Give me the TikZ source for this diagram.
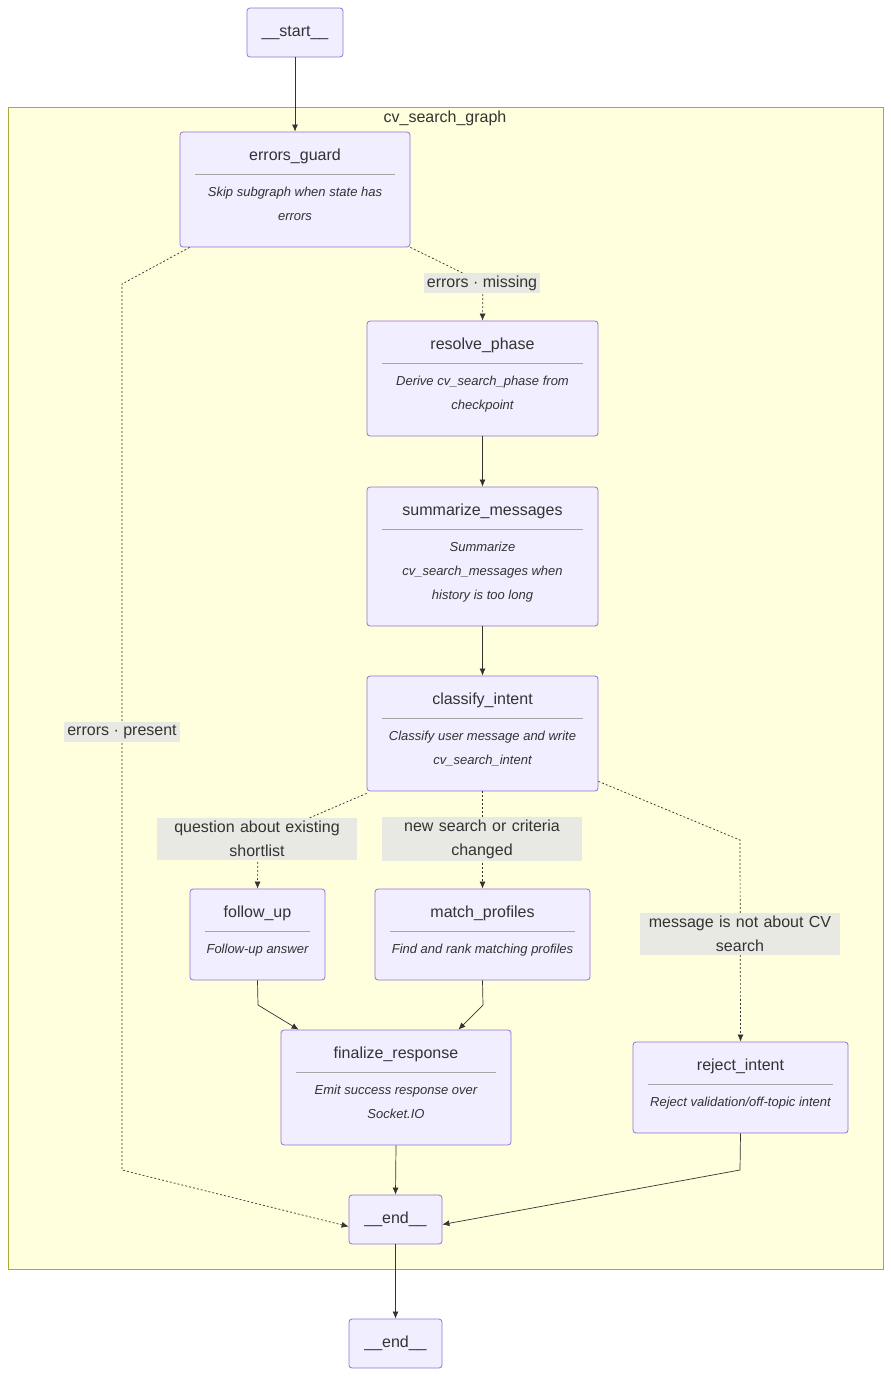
\documentclass[tikz,border=0pt]{standalone}
\usepackage{fontspec}
\setmainfont{Liberation Sans}
\usetikzlibrary{arrows.meta,positioning}
\definecolor{boxfill}{HTML}{F0EEFF}
\definecolor{boxline}{HTML}{9370DB}
\definecolor{clfill}{HTML}{FFFFDE}
\definecolor{clline}{HTML}{AAAA33}
\definecolor{lblfill}{HTML}{E9E9E4}
\definecolor{txt}{HTML}{333333}
\tikzset{
  box/.style={draw=boxline,fill=boxfill,rounded corners=3pt,line width=0.8pt,inner sep=0pt},
  ttl/.style={text=txt,font=\fontsize{16}{19}\selectfont,inner sep=0pt},
  dsc/.style={text=txt,font=\fontsize{13}{24}\selectfont\itshape,align=center,inner sep=0pt},
  lbl/.style={fill=lblfill,text=txt,font=\fontsize{16}{24}\selectfont,align=center,inner sep=3pt},
  edge/.style={draw=txt,line width=0.7pt,-{Latex[length=7pt,width=6pt]}},
  dot/.style={edge,dash pattern=on 2pt off 2pt}
}
% box: name, left, top, width, height, title, description
\newcommand{\cvbox}[7]{%
  \node[box,minimum width=#4pt,minimum height=#5pt] (#1) at ({#2+#4/2},{#3+#5/2}) {};
  \node[ttl] at ({#2+#4/2},{#3+24}) {#6};
  \draw[gray!70,line width=0.6pt] ({#2+15},{#3+42}) -- ({#2+#4-15},{#3+42});
  \node[dsc,anchor=north] at ({#2+#4/2},{#3+55}) {#7};
}
\begin{document}
\begin{tikzpicture}[x=1pt,y=-1pt]
\useasboundingbox (0,0) rectangle (891,1377);

%% cluster
\draw[fill=clfill,draw=clline,line width=0.8pt] (8,107) rectangle (883,1269);
\node[ttl] at (445,118) {cv\_search\_graph};

%% nodes
\node[box,minimum width=96pt,minimum height=49pt,ttl] (start) at (295,32.5) {\_\_start\_\_};
\cvbox{guard}{180}{132}{230}{115}{errors\_guard}{Skip subgraph when state has\\errors}
\cvbox{phase}{367}{321}{231}{115}{resolve\_phase}{Derive cv\_search\_phase from\\checkpoint}
\cvbox{summ}{367}{487}{231}{139}{summarize\_messages}{Summarize\\cv\_search\_messages when\\history is too long}
\cvbox{intent}{367}{676}{231}{115}{classify\_intent}{Classify user message and write\\cv\_search\_intent}
\cvbox{follow}{190}{889}{135}{91}{follow\_up}{Follow-up answer}
\cvbox{match}{375}{889}{215}{91}{match\_profiles}{Find and rank matching profiles}
\cvbox{final}{281}{1030}{230}{115}{finalize\_response}{Emit success response over\\Socket.IO}
\cvbox{reject}{633}{1042}{215}{91}{reject\_intent}{Reject validation/off-topic intent}
\node[box,minimum width=93pt,minimum height=49pt,ttl] (endin) at (395.5,1219.5) {\_\_end\_\_};
\node[box,minimum width=93pt,minimum height=49pt,ttl] (endout) at (395.5,1343.5) {\_\_end\_\_};

%% bends
\coordinate (b1) at (122,284);
\coordinate (b2) at (122,1170);
\coordinate (b3) at (740,840);
\coordinate (b4) at (258,1005);
\coordinate (b5) at (483,1005);
\coordinate (b6) at (740,1170);
\coordinate (m1) at (483,283);
\coordinate (m2) at (258,840);

%% edges
\draw[edge] (start.south) -- (guard.north);
\draw[dot] (guard.south east) -- (m1) -- (phase.north);
\draw[dot] ([xshift=10pt]guard.south west) -- (b1) -- (b2) -- ([yshift=-7pt]endin.west);
\draw[edge] (phase.south) -- (summ.north);
\draw[edge] (summ.south) -- (intent.north);
\draw[dot] ([yshift=-2pt]intent.south west) -- (m2) -- (follow.north);
\draw[dot] (intent.south) -- (match.north);
\draw[dot] ([yshift=10pt]intent.south east) -- (b3) -- (reject.north);
\draw[edge] (follow.south) -- (b4) -- ([xshift=18pt]final.north west);
\draw[edge] (match.south) -- (b5) -- ([xshift=-53pt]final.north east);
\draw[edge] (final.south) -- (endin.north);
\draw[edge] (reject.south) -- (b6) -- ([yshift=-5pt]endin.east);
\draw[edge] (endin.south) -- (endout.north);

%% labels
\node[lbl] (lmiss) at (482,283) {errors · missing};
\node[lbl] (lpres) at (122,732) {errors · present};
\node[lbl,text width=194pt] (lques) at (257,839) {question about existing\\shortlist};
\node[lbl,text width=194pt] (lnew) at (482,839) {new search or criteria\\changed};
\node[lbl,text width=194pt] (lnot) at (740,934) {message is not about CV\\search};
\end{tikzpicture}
\end{document}
